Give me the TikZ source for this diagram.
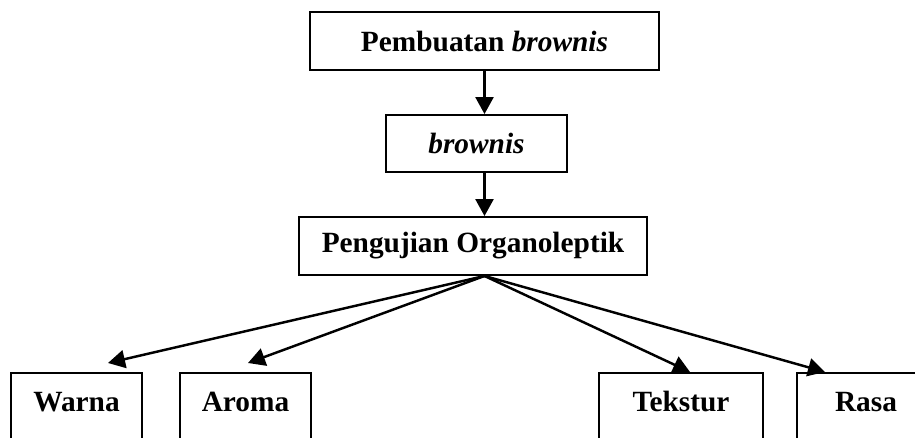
\documentclass[tikz,border=0pt]{standalone}
\usepackage{fontspec}
\setmainfont{Liberation Serif}
\usetikzlibrary{arrows.meta}

\begin{document}
\begin{tikzpicture}[
	box/.style={draw, line width=1.1pt, font=\fontsize{16.7}{20}\selectfont\bfseries, inner sep=0pt},
	leaf/.style={box, anchor=north, minimum width=#1, text height=0.42cm, text depth=2cm, inner ysep=0.36cm},
	arr/.style={line width=1.4pt, -{Triangle[length=0.34cm, width=0.36cm]}}
]
	\useasboundingbox (0,0) rectangle (18.3,8.74);
	\clip (0,0) rectangle (18.3,8.74);

	\node[box, minimum width=6.98cm, minimum height=1.16cm] (make) at (9.69,7.92) {Pembuatan \textit{brownis}};
	\node[box, minimum width=3.62cm, minimum height=1.14cm] (cake) at (9.53,5.87) {\textit{brownis}};
	\node[box, minimum width=6.96cm, minimum height=1.16cm] (test) at (9.46,3.82) {Pengujian Organoleptik};

	\node[leaf=2.62cm] (warna) at (1.53,1.30) {Warna};
	\node[leaf=2.62cm] (aroma) at (4.91,1.30) {Aroma};
	\node[leaf=3.28cm] (tekstur) at (13.62,1.30) {Tekstur};
	\node[leaf=2.76cm] (rasa) at (17.32,1.30) {Rasa};

	\coordinate (fan) at (make.south |- test.south);

	\draw[arr] (make.south) -- (make.south |- cake.north);
	\draw[arr] (make.south |- cake.south) -- (make.south |- test.north);
	\draw[arr] (fan) -- ([xshift=0.63cm, yshift=0.18cm]warna.north);
	\draw[arr] (fan) -- ([xshift=0.05cm, yshift=0.18cm]aroma.north);
	\draw[arr] (fan) -- ([xshift=0.18cm]tekstur.north);
	\draw[arr] (fan) -- ([xshift=-0.82cm]rasa.north);
\end{tikzpicture}
\end{document}
